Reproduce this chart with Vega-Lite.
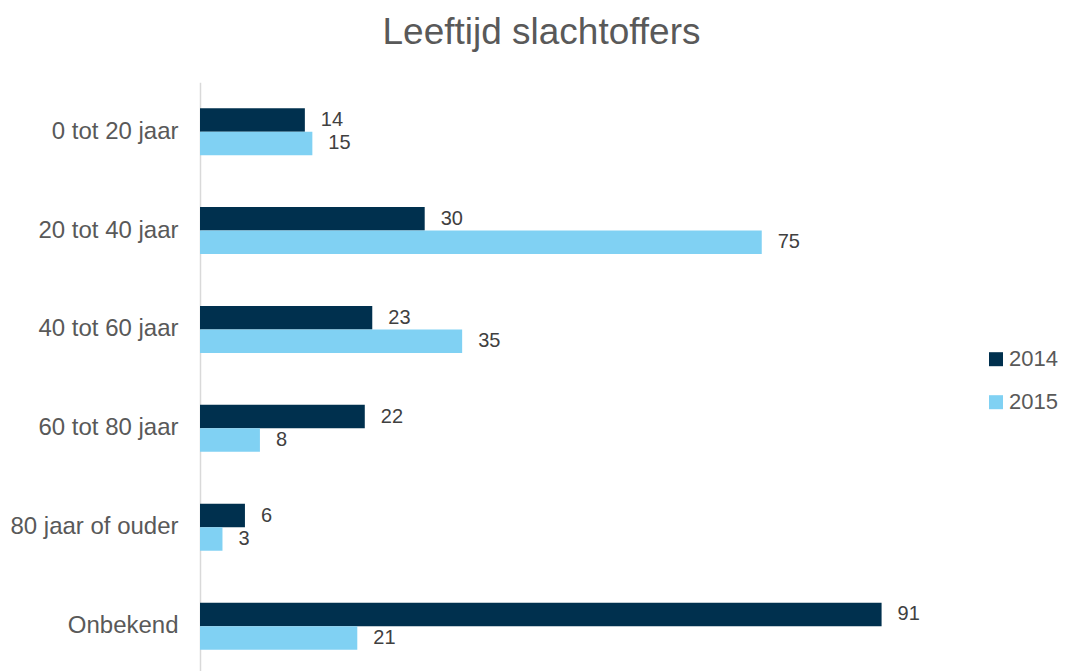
{
  "$schema": "https://vega.github.io/schema/vega-lite/v6.json",
  "width": 749,
  "height": 593.4,
  "autosize": {"type": "none"},
  "padding": {"left": 200, "top": 82.2, "right": 116, "bottom": 0},
  "background": "white",
  "title": {
    "text": "Leeftijd slachtoffers",
    "fontSize": 37,
    "font": "Liberation Sans",
    "fontWeight": "normal",
    "color": "#595959",
    "anchor": "middle",
    "frame": "group",
    "dx": -33,
    "offset": 30
  },
  "config": {"view": {"stroke": null}, "font": "Liberation Sans"},
  "data": {
    "values": [
      {"leeftijd": "0 tot 20 jaar", "jaar": "2014", "aantal": 14},
      {"leeftijd": "0 tot 20 jaar", "jaar": "2015", "aantal": 15},
      {"leeftijd": "20 tot 40 jaar", "jaar": "2014", "aantal": 30},
      {"leeftijd": "20 tot 40 jaar", "jaar": "2015", "aantal": 75},
      {"leeftijd": "40 tot 60 jaar", "jaar": "2014", "aantal": 23},
      {"leeftijd": "40 tot 60 jaar", "jaar": "2015", "aantal": 35},
      {"leeftijd": "60 tot 80 jaar", "jaar": "2014", "aantal": 22},
      {"leeftijd": "60 tot 80 jaar", "jaar": "2015", "aantal": 8},
      {"leeftijd": "80 jaar of ouder", "jaar": "2014", "aantal": 6},
      {"leeftijd": "80 jaar of ouder", "jaar": "2015", "aantal": 3},
      {"leeftijd": "Onbekend", "jaar": "2014", "aantal": 91},
      {"leeftijd": "Onbekend", "jaar": "2015", "aantal": 21}
    ]
  },
  "encoding": {
    "y": {
      "field": "leeftijd",
      "type": "nominal",
      "sort": ["0 tot 20 jaar", "20 tot 40 jaar", "40 tot 60 jaar", "60 tot 80 jaar", "80 jaar of ouder", "Onbekend"],
      "scale": {"paddingInner": 0.525, "paddingOuter": 0.2625},
      "axis": {
        "title": null,
        "ticks": false,
        "domain": true,
        "domainColor": "#D9D9D9",
        "domainWidth": 1.5,
        "labelFont": "Liberation Sans",
        "labelFontSize": 24,
        "labelColor": "#595959",
        "labelPadding": 22,
        "grid": false
      }
    },
    "yOffset": {"field": "jaar", "type": "nominal", "sort": ["2014", "2015"]},
    "x": {"field": "aantal", "type": "quantitative", "scale": {"domain": [0, 100]}, "axis": null}
  },
  "layer": [
    {
      "mark": {"type": "bar"},
      "encoding": {
        "color": {
          "field": "jaar",
          "type": "nominal",
          "scale": {"domain": ["2014", "2015"], "range": ["#00304E", "#80D1F3"]},
          "legend": {
            "orient": "none",
            "legendX": 785,
            "legendY": 266,
            "title": null,
            "symbolType": "square",
            "symbolSize": 196,
            "symbolStrokeWidth": 0,
            "labelFontSize": 22,
            "labelColor": "#595959",
            "labelFont": "Liberation Sans",
            "rowPadding": 21,
            "labelOffset": 2,
            "padding": 0
          }
        }
      }
    },
    {
      "mark": {"type": "text", "align": "left", "baseline": "middle", "dx": 16, "fontSize": 20, "font": "Liberation Sans", "color": "#404040"},
      "encoding": {"text": {"field": "aantal", "type": "quantitative"}}
    }
  ]
}
